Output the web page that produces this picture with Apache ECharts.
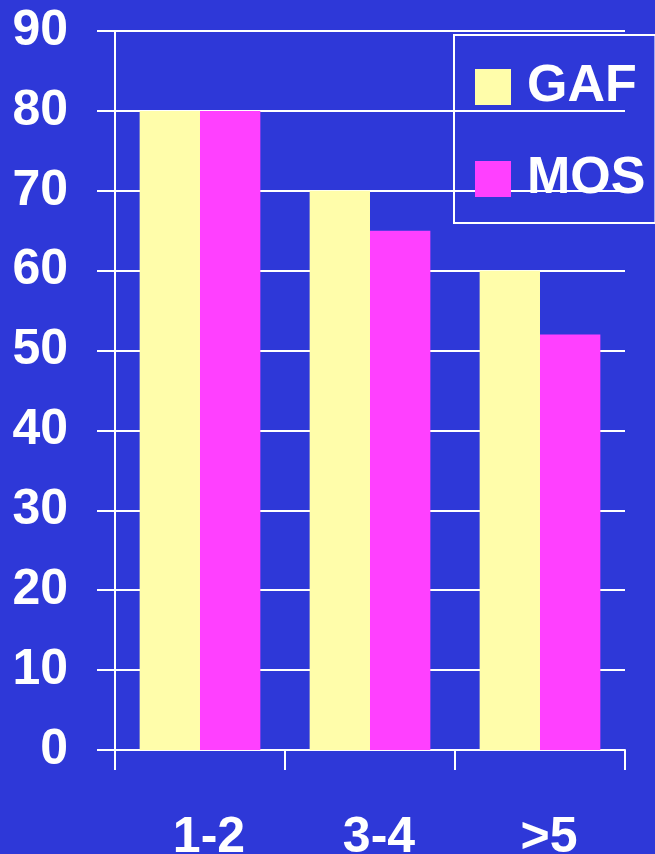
<!DOCTYPE html>
<html>
<head>
<meta charset="utf-8">
<script src="https://cdn.jsdelivr.net/npm/echarts@6/dist/echarts.min.js"></script>
<style>
  html, body { margin: 0; padding: 0; background: #2E38D8; }
  #chart { width: 655px; height: 854px; }
</style>
</head>
<body>
<div id="chart"></div>
<script>
// Groups along the x axis and the two compared series
const categories = ['1-2', '3-4', '>5'];
const gafValues = [80, 70, 60];
const mosValues = [80, 65, 52];
const yTicks = { min: 0, max: 90, interval: 10 };

const FONT = '"Liberation Sans", Arial, sans-serif';
const WHITE = '#FFFFFF';

const chart = echarts.init(document.getElementById('chart'), null, { renderer: 'canvas' });

chart.setOption({
  backgroundColor: '#2E38D8',
  animation: false,
  grid: {
    left: 115, right: 30, top: 31, bottom: 104,
    containLabel: false, outerBoundsMode: 'none'
  },
  legend: {
    orient: 'vertical',
    left: 454,
    top: 35,
    padding: [26, 10, 18, 21],
    itemWidth: 36,
    itemHeight: 36,
    itemGap: 40,
    borderColor: WHITE,
    borderWidth: 2,
    icon: 'rect',
    textStyle: {
      color: WHITE, fontSize: 52, fontWeight: 'bold', fontFamily: FONT,
      padding: [0, 0, 0, 11]
    },
    data: ['GAF', 'MOS']
  },
  xAxis: {
    type: 'category',
    data: categories,
    axisLine: { lineStyle: { color: WHITE, width: 2 } },
    axisTick: { show: true, length: 20, alignWithLabel: false, lineStyle: { color: WHITE, width: 2 } },
    axisLabel: {
      color: WHITE, fontSize: 50, fontWeight: 'bold', fontFamily: FONT,
      margin: 63, padding: [0, 0, 0, 18]
    },
    splitLine: { show: false }
  },
  yAxis: {
    type: 'value',
    min: yTicks.min,
    max: yTicks.max,
    interval: yTicks.interval,
    axisLine: { show: true, lineStyle: { color: WHITE, width: 2 } },
    axisTick: { show: true, length: 18, lineStyle: { color: WHITE, width: 2 } },
    axisLabel: {
      color: WHITE, fontSize: 50, fontWeight: 'bold', fontFamily: FONT, margin: 47
    },
    splitLine: { show: true, lineStyle: { color: WHITE, width: 2 } }
  },
  series: [
    {
      name: 'GAF', type: 'bar', data: gafValues,
      itemStyle: { color: '#FFFDAA' },
      barGap: '0%', barCategoryGap: '29%'
    },
    {
      name: 'MOS', type: 'bar', data: mosValues,
      itemStyle: { color: '#FF40FF' },
      barGap: '0%', barCategoryGap: '29%'
    }
  ]
});
</script>
</body>
</html>
